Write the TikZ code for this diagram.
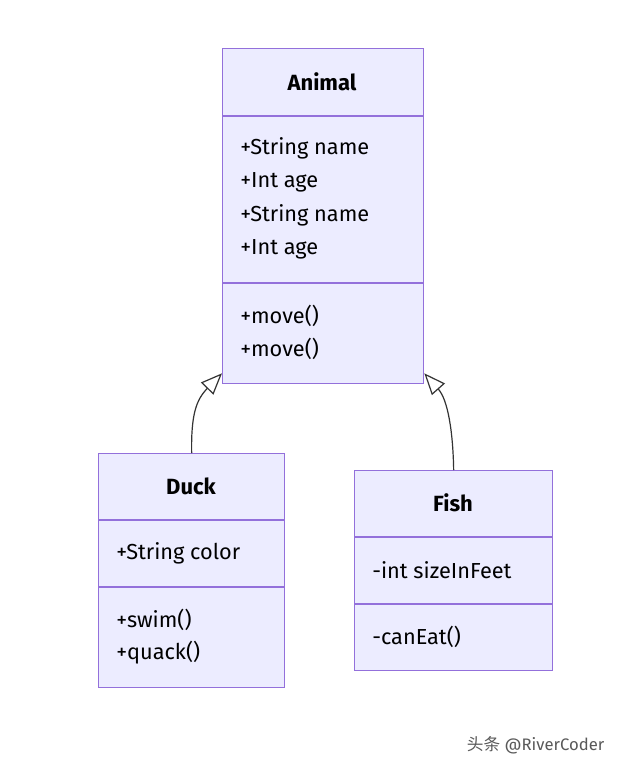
\documentclass[tikz,border=0pt]{standalone}
\usepackage{fontspec}
\setmainfont{Fira Sans}
\newfontfamily\cjk{Noto Sans CJK SC}
\usetikzlibrary{arrows.meta,calc}
\definecolor{boxfill}{HTML}{ECECFF}
\definecolor{boxline}{HTML}{9370DB}
\definecolor{edge}{HTML}{333333}
\tikzset{
  cls/.style={draw=boxline, fill=boxfill, line width=1pt, anchor=north west, inner sep=0pt},
  divider/.style={draw=boxline, line width=1pt},
  title/.style={font=\fontsize{16.5}{19}\selectfont\bfseries, text=black},
  member/.style={font=\fontsize{16.3}{19}\selectfont, text=black, anchor=west, inner sep=0pt},
  inherit/.style={draw=edge, line width=0.9pt, -{Triangle[open, length=16pt, width=13pt, line width=0.9pt]}},
}
\begin{document}
\begin{tikzpicture}[x=0.75pt, y=-0.75pt]
\useasboundingbox[fill=white] (0,0) rectangle (623,768);
% Animal
\node (animal) [cls, minimum width=150.75pt, minimum height=251.25pt] at (222,48) {};
\draw[divider] (222,116) -- (423,116);
\draw[divider] (222,283) -- (423,283);
\node (animalT) [title] at (322,82) {Animal};
\node (a1) [member] at (240,148) {+String name};
\node (a2) [member] at (240,182) {+Int age};
\node (a3) [member] at (240,215) {+String name};
\node (a4) [member] at (240,249) {+Int age};
\node (a5) [member] at (240,316) {+move()};
\node (a6) [member] at (240,349) {+move()};
% Duck
\node (duck) [cls, minimum width=139.5pt, minimum height=175.5pt] at (98,453) {};
\draw[divider] (98,520) -- (284,520);
\draw[divider] (98,587) -- (284,587);
\node (duckT) [title] at (191,486) {Duck};
\node (d1) [member] at (116,553) {+String color};
\node (d2) [member] at (116,620) {+swim()};
\node (d3) [member] at (116,653) {+quack()};
% Fish
\node (fish) [cls, minimum width=148.5pt, minimum height=150pt] at (354,470) {};
\draw[divider] (354,537) -- (552,537);
\draw[divider] (354,604) -- (552,604);
\node (fishT) [title] at (453,503) {Fish};
\node (f1) [member] at (372,570) {-int sizeInFeet};
\node (f2) [member] at (372,637) {-canEat()};
% inheritance
\coordinate (ductip) at ($(animal.south west)+(0,-11)$);
\coordinate (fishtip) at ($(animal.south east)+(0,-11)$);
\draw[inherit] (duck.north) .. controls (191,415) and (196,400) .. (ductip);
\draw[inherit] (fish.north) .. controls (453,432) and (448,400) .. (fishtip);
% watermark
\node (wm) [anchor=east, text=black!65, font=\fontsize{12.5}{15}\selectfont] at (609,745) {{\cjk 头条} @RiverCoder};
\end{tikzpicture}
\end{document}
